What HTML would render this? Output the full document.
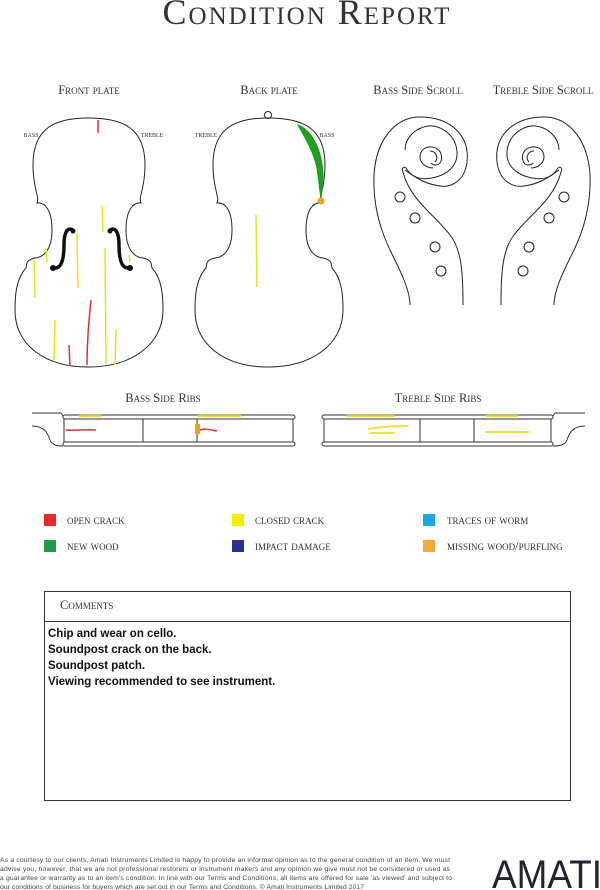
<!DOCTYPE html>
<html><head><style>
body{margin:0;background:#fff;}
svg{display:block}
.sc{font-family:"Liberation Serif",serif;font-variant:small-caps;fill:#333}
</style></head><body>
<svg width="600" height="890" viewBox="0 0 600 890" xmlns="http://www.w3.org/2000/svg">
<text x="307" y="24" text-anchor="middle" class="sc" font-size="36" letter-spacing="2" fill="#222">Condition Report</text>

<text x="89" y="94" text-anchor="middle" class="sc" font-size="12.5">Front plate</text>
<text x="269" y="94" text-anchor="middle" class="sc" font-size="12.5">Back plate</text>
<text x="418" y="94" text-anchor="middle" class="sc" font-size="12.5">Bass Side Scroll</text>
<text x="543" y="94" text-anchor="middle" class="sc" font-size="12.5">Treble Side Scroll</text>
<text x="31" y="137" text-anchor="middle" class="sc" font-size="8.5">bass</text>
<text x="152" y="137" text-anchor="middle" class="sc" font-size="8.5">treble</text>
<text x="206" y="137" text-anchor="middle" class="sc" font-size="8.5">treble</text>
<text x="327" y="137" text-anchor="middle" class="sc" font-size="8.5">bass</text>

<defs>
<path id="body" d="M88,118 C55,118 33,128 33,165 C33,190 40,197 37,203 C45,202 52,210 52,230 C52,248 45,257 35,258 C25,260 27,265 26,268 C15,280 15,300 15,310 C15,345 45,367 88,367 C131,367 163,345 163,310 C163,300 163,280 152,268 C151,265 153,260 143,258 C133,257 126,248 126,230 C126,210 133,202 141,203 C138,197 145,190 145,165 C145,128 123,118 88,118 Z" fill="none" stroke="#222" stroke-width="1"/>
</defs>
<use href="#body"/>
<circle cx="268" cy="115" r="3.5" fill="#fff" stroke="#222"/>
<use href="#body" transform="translate(180,0)"/>

<g fill="none" stroke="#111" stroke-linecap="round">
<path d="M73,230 C66,226 64,236 64,245 C64,258 62,268 55,268" stroke-width="3.5"/>
<path d="M110,230 C117,226 119,236 119,245 C119,258 121,268 128,268" stroke-width="3.5"/>
</g>
<circle cx="73" cy="231" r="2.5" fill="#111"/><circle cx="53" cy="268" r="3" fill="#111"/>
<circle cx="110" cy="231" r="2.5" fill="#111"/><circle cx="130" cy="268" r="3" fill="#111"/>

<g stroke="#e8e41a" stroke-width="1.5" fill="none">
<path d="M102,205 L103,232"/><path d="M77,233 L78,288"/><path d="M105,248 L106,364"/>
<path d="M34,260 L35,298"/><path d="M46,248 L47,262"/><path d="M129,255 L130,262"/>
<path d="M55,320 L54,360"/><path d="M116,330 L115,365"/><path d="M256,215 L257,287"/>
</g>
<g stroke="#e03030" stroke-width="1.5" fill="none">
<path d="M98,120 L98,133"/><path d="M69,345 L70,366"/><path d="M91,300 C89,320 87,340 87,365"/>
</g>
<path d="M298,125 C312,130 322,150 323,175 L321,200 L318,175 C316,155 306,140 298,125Z" fill="#1fa01f" stroke="#1a9a1a"/>
<circle cx="321" cy="201" r="3.5" fill="#f0a020"/>

<g id="scroll" fill="none" stroke="#222" stroke-width="1">
<path d="M463,305 C463,275 462,250 450,235 C435,215 410,200 403,172 C401,168 404,166 406,168 C412,178 422,180 432,178 C448,175 458,165 457,152 C456,135 441,125 428,126 C415,128 405,138 405,150"/>
<path d="M410,305 C410,290 400,270 390,250 C378,225 373,200 374,175 C376,140 395,117 420,117 C450,117 470,135 467,162 C465,180 452,188 440,186 C425,184 416,178 405,170"/>
<path d="M433,168 C425,168 420,162 420,157 C420,150 426,146 432,147 C440,148 443,155 441,161 C439,166 434,166 431,163"/>
<path d="M430,151 C436,151 439,158 435,162"/>
<circle cx="400" cy="197" r="5"/><circle cx="415" cy="218" r="5"/>
<circle cx="435" cy="247" r="5"/><circle cx="441" cy="271" r="5"/>
</g>
<use href="#scroll" transform="translate(964,0) scale(-1,1)"/>

<text x="163" y="402" text-anchor="middle" class="sc" font-size="12.5">Bass Side Ribs</text>
<text x="438" y="402" text-anchor="middle" class="sc" font-size="12.5">Treble Side Ribs</text>
<g fill="none" stroke="#333" stroke-width="1">
<rect x="63" y="415" width="232" height="4" rx="2"/><rect x="63" y="442" width="232" height="4" rx="2"/>
<path d="M64,419 V442 M143,419 V442 M197,419 V442 M293,419 V442"/>
<path d="M32,413 H61 L63,416 M32,426 C45,426 48,434 50,440 C52,445 57,446 63,446"/>
<rect x="322" y="415" width="231" height="4" rx="2"/><rect x="322" y="442" width="231" height="4" rx="2"/>
<path d="M324,419 V442 M420,419 V442 M474,419 V442 M551,419 V442"/>
<path d="M585,413 H555 L553,416 M585,426 C572,426 569,434 567,440 C565,445 560,446 553,446"/>
</g>
<g stroke="#e8d020" stroke-width="2.5" opacity=".8">
<path d="M79,416 H101 M198,416 H241 M347,416 H395 M486,416 H518"/>
</g>
<g stroke="#f0e040" stroke-width="2" fill="none"><path d="M368,429 C380,427 395,426 408,426 M370,433 H395 M486,432 H529"/></g>
<path d="M66,430 C75,431 85,429 96,430 M200,430 C206,428 211,430 217,431" stroke="#e03030" stroke-width="1.5" fill="none"/>
<rect x="195" y="424" width="5" height="10" fill="#f0a020"/>

<g class="sc" font-size="12.5">
<rect x="44" y="514" width="12" height="12" fill="#e52a2a"/><text x="67" y="524">open crack</text>
<rect x="44" y="540" width="12" height="12" fill="#1e9e4a"/><text x="67" y="550">new wood</text>
<rect x="232" y="514" width="12" height="12" fill="#f2ee00"/><text x="255" y="524">closed crack</text>
<rect x="232" y="540" width="12" height="12" fill="#2a3090"/><text x="255" y="550">impact damage</text>
<rect x="423" y="514" width="12" height="12" fill="#19a7e8"/><text x="447" y="524">traces of worm</text>
<rect x="423" y="540" width="12" height="12" fill="#f5a838"/><text x="447" y="550">missing wood/purfling</text>
</g>

<rect x="44.5" y="591.5" width="526" height="209" fill="none" stroke="#333"/>
<line x1="44" y1="621.5" x2="570" y2="621.5" stroke="#333"/>
<text x="60" y="609" class="sc" font-size="12.5">Comments</text>
<g font-family="Liberation Sans,sans-serif" font-size="11.5" font-weight="bold" fill="#111">
<text x="48" y="637">Chip and wear on cello.</text>
<text x="48" y="653">Soundpost crack on the back.</text>
<text x="48" y="669">Soundpost patch.</text>
<text x="48" y="685">Viewing recommended to see instrument.</text>
</g>
<g font-family="Liberation Sans,sans-serif" font-size="6.8" fill="#444">
<text x="0" y="862" textLength="450">As a courtesy to our clients, Amati Instruments Limited is happy to provide an informal opinion as to the general condition of an item. We must</text>
<text x="0" y="871" textLength="450">advise you, however, that we are not professional restorers or instrument makers and any opinion we give must not be considered or used as</text>
<text x="0" y="880" textLength="452">a guarantee or warranty as to an item's condition. In line with our Terms and Conditions, all items are offered for sale 'as viewed' and subject to</text>
<text x="0" y="889" textLength="364">our conditions of business for buyers which are set out in our Terms and Conditions. © Amati Instruments Limited 2017</text>
</g>
<text x="492" y="888" font-family="Liberation Sans,sans-serif" font-size="40" fill="#223" textLength="110" lengthAdjust="spacingAndGlyphs">AMATI</text>
</svg>
</body></html>
